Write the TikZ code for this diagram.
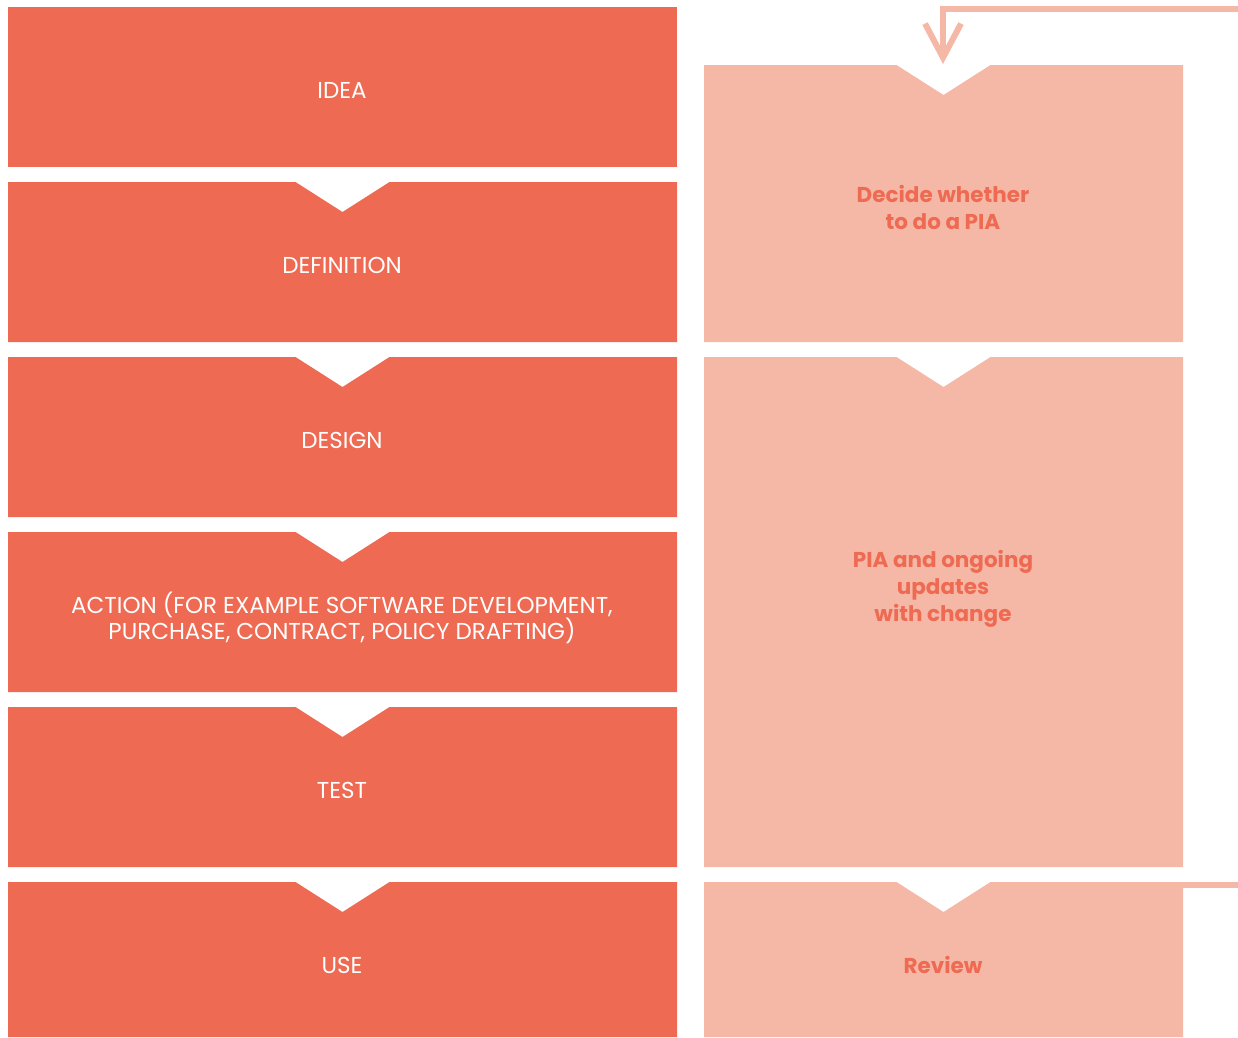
\documentclass[tikz,border=0pt]{standalone}
\usepackage{fontspec}
\setmainfont{Poppins}
\usetikzlibrary{arrows.meta}

\definecolor{stagered}{HTML}{EE6A52}
\definecolor{piapink}{HTML}{F6B8A6}

% box with a notch cut into its top edge: left, right, top, bottom, colour
\newcommand{\notchbox}[5]{%
  \fill[#5] (#1,#3) -- ({(#1+#2)/2-47},#3) -- ({(#1+#2)/2},#3+30)
            -- ({(#1+#2)/2+47},#3) -- (#2,#3) -- (#2,#4) -- (#1,#4) -- cycle;}

\begin{document}
\begin{tikzpicture}[x=1pt,y=-1pt,
  stage/.style={text=white,align=center,font=\fontsize{23}{26}\selectfont},
  piatext/.style={text=stagered,align=center,font=\fontsize{21.5}{27}\selectfont\bfseries},
  feedback/.style={piapink,line width=6pt}]
\useasboundingbox (0,0) rectangle (1238,1037);

% left column: project stages
\fill[stagered] (8,7) rectangle (677,167);
\node[stage] (idea) at (342,90) {IDEA};
\notchbox{8}{677}{182}{342}{stagered}
\node[stage] (definition) at (342,265) {DEFINITION};
\notchbox{8}{677}{357}{517}{stagered}
\node[stage] (design) at (342,440) {DESIGN};
\notchbox{8}{677}{532}{692}{stagered}
\node[stage] (action) at (342,618) {ACTION (FOR EXAMPLE SOFTWARE DEVELOPMENT,\\PURCHASE, CONTRACT, POLICY DRAFTING)};
\notchbox{8}{677}{707}{867}{stagered}
\node[stage] (test) at (342,790) {TEST};
\notchbox{8}{677}{882}{1037}{stagered}
\node[stage] (use) at (342,965) {USE};

% right column: PIA
\notchbox{704}{1183}{65}{342}{piapink}
\node[piatext] (decide) at (943,207) {Decide whether\\to do a PIA};
\notchbox{704}{1183}{357}{867}{piapink}
\node[piatext] (pia) at (943,589) {PIA and ongoing\\updates\\with change};
\notchbox{704}{1183}{882}{1037}{piapink}
\node[piatext] (review) at (943,965) {Review};

% feedback loop
\coordinate (loopin) at (1238,9);
\coordinate (decidetop) at (943,64);
\coordinate (reviewcorner) at (1183,885);
\coordinate (loopout) at (1238,885);
\draw[feedback,-{Straight Barb[length=34pt,width=36pt]}] (loopin) -- (decidetop |- loopin) -- (decidetop);
\draw[feedback] (reviewcorner) -- (loopout);
\end{tikzpicture}
\end{document}
